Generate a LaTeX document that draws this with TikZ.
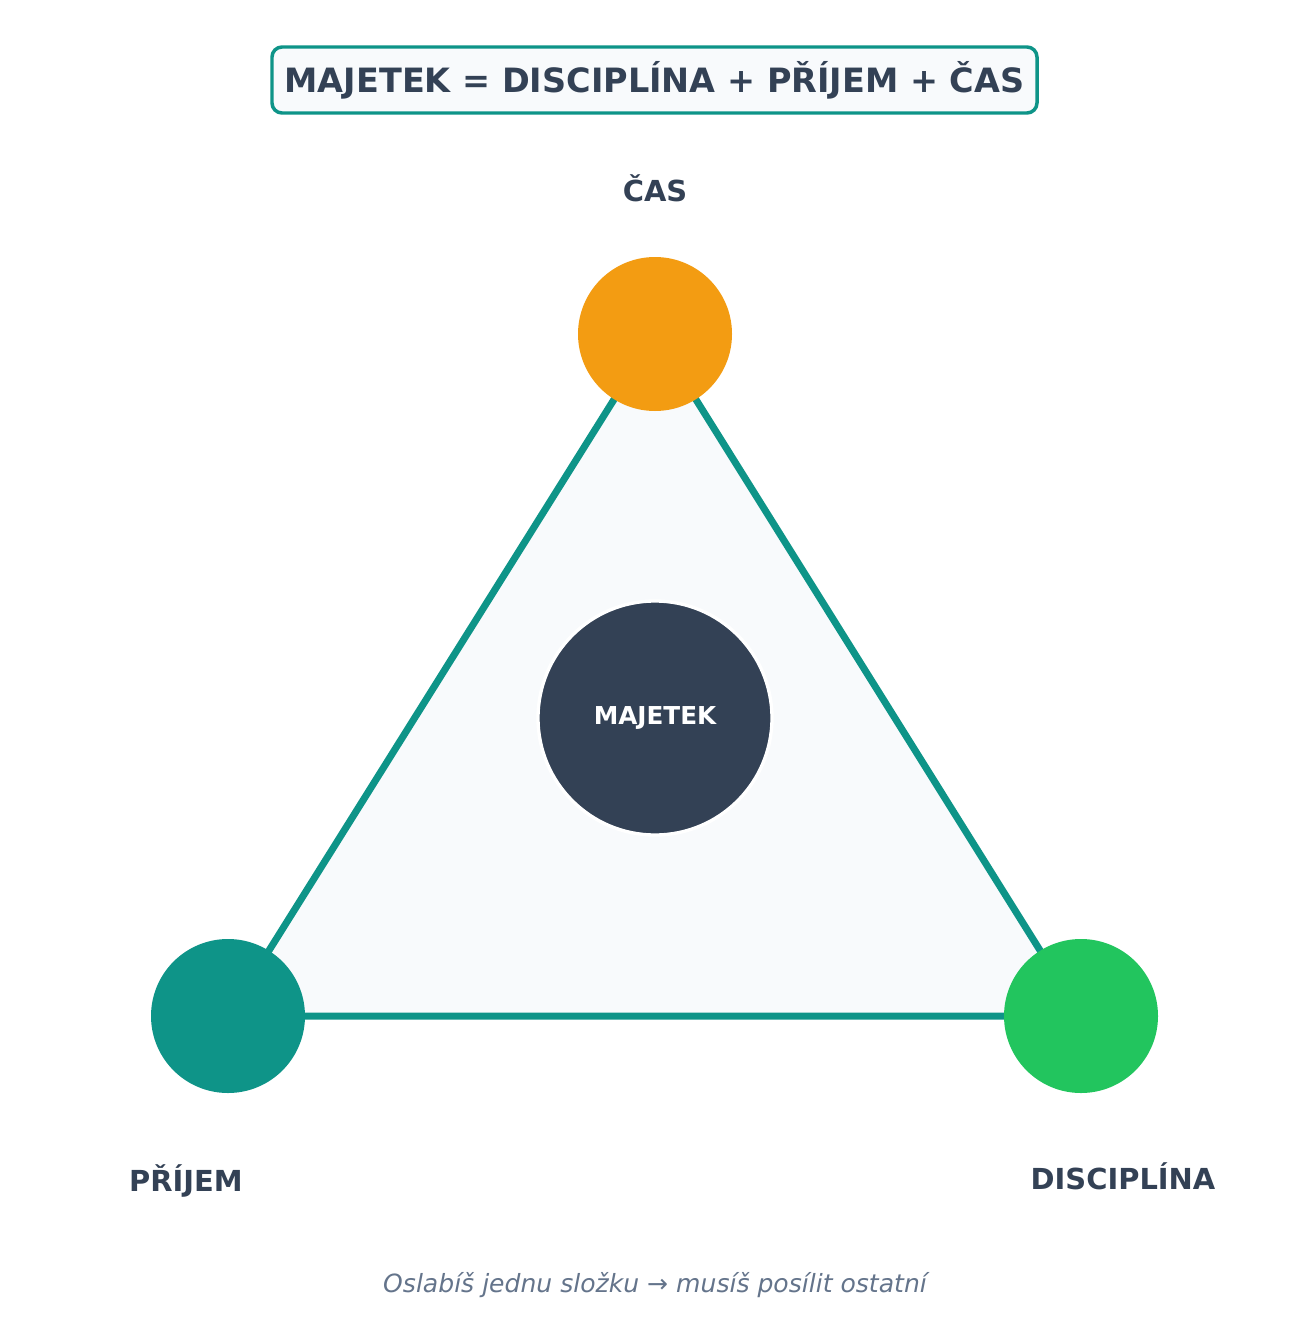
\documentclass[tikz,border=0pt]{standalone}
\usepackage{fontspec}
\setmainfont{DejaVu Sans}
\definecolor{teal}{HTML}{0E9488}
\definecolor{orangec}{HTML}{F39C12}
\definecolor{greenc}{HTML}{22C55E}
\definecolor{darkc}{HTML}{334155}
\definecolor{lightbg}{HTML}{F8FAFC}
\definecolor{grayc}{HTML}{64748B}
\tikzset{
  vertexdot/.style={circle, minimum size=154*0.75pt, inner sep=0pt},
  corelabel/.style={font=\fontsize{21.7}{26}\selectfont\bfseries, text=darkc},
}
\begin{document}
\begin{tikzpicture}[x=0.75pt,y=-0.75pt]
\fill[white] (0,0) rectangle (1309,1330);
\useasboundingbox (0,0) rectangle (1309,1330);
% title
\node[draw=teal, line width=2.6pt, fill=lightbg, rounded corners=7.5pt,
      minimum width=765*0.75pt, minimum height=66*0.75pt, inner sep=0pt,
      text=darkc, font=\fontsize{25.1}{30}\selectfont\bfseries] (title) at (654.5,80)
  {MAJETEK = DISCIPLÍNA + PŘÍJEM + ČAS};
% vertices
\coordinate (vt) at (655,334);
\coordinate (vl) at (228,1016);
\coordinate (vr) at (1081,1016);
\draw[teal, fill=lightbg, line width=5.25pt, line join=round] (vt) -- (vl) -- (vr) -- cycle;
\node[vertexdot, fill=orangec] (cas) at (vt) {};
\node[vertexdot, fill=teal] (prijem) at (vl) {};
\node[vertexdot, fill=greenc] (disc) at (vr) {};
% center
\node[circle, fill=darkc, draw=white, line width=2.5pt, minimum size=234*0.75pt, inner sep=0pt,
      text=white, font=\fontsize{18.5}{22}\selectfont\bfseries] (majetek) at (655,718) {MAJETEK};
% labels
\node[corelabel] (lcas) at (655,188) {ČAS};
\node[corelabel] (lprijem) at (186,1181) {PŘÍJEM};
\node[corelabel] (ldisc) at (1123,1176) {DISCIPLÍNA};
\node[text=grayc, font=\fontsize{18.8}{22}\selectfont\itshape] (note) at (655,1285)
  {Oslabíš jednu složku → musíš posílit ostatní};
\end{tikzpicture}
\end{document}
